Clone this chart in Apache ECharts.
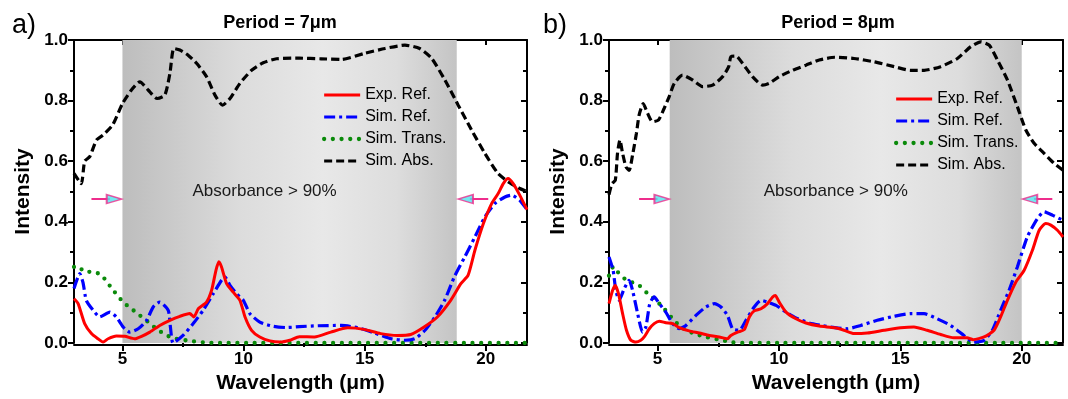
<!DOCTYPE html>
<html><head><meta charset="utf-8">
<script src="https://cdn.jsdelivr.net/npm/echarts@6/dist/echarts.min.js"></script>
<style>html,body{margin:0;padding:0;background:#fff}#c{width:1068px;height:399px}</style>
</head><body><div id="c"></div>
<script>
// ---- data ----
const seriesNames = ['Exp. Ref.', 'Sim. Ref.', 'Sim. Trans.', 'Sim. Abs.'];
const panelTitles = ['Period = 7μm', 'Period = 8μm'];
const panelLetters = ['a)', 'b)'];
const xTicks = [5, 10, 15, 20];
const xMinorTicks = [7.5, 12.5, 17.5];
const xTopTicks = [5, 7.5, 10, 12.5, 15, 17.5, 20];
const bandA = [5, 18.8];
const bandB = [5.5, 20];
const bandText = 'Absorbance > 90%';
// arrows: [tail x, tip x, y]
const arrowsA = [[3.72, 4.96, 0.475], [20.1, 18.86, 0.475]];
const arrowsB = [[4.24, 5.48, 0.475], [21.26, 20.03, 0.475]];

const aExp = [[3.0,0.146],[3.17,0.13],[3.44,0.064],[3.72,0.031],[3.99,0.014],[4.2,0.003],[4.41,0.014],[4.75,0.023],[5.1,0.022],[5.5,0.014],[5.79,0.022],[6.13,0.036],[6.54,0.058],[6.96,0.075],[7.37,0.088],[7.78,0.097],[7.95,0.086],[8.13,0.113],[8.47,0.135],[8.68,0.174],[8.86,0.24],[8.98,0.268],[9.09,0.251],[9.3,0.196],[9.57,0.168],[9.85,0.141],[10.06,0.086],[10.33,0.042],[10.67,0.02],[11.09,0.007],[11.5,0.003],[11.91,0.009],[12.3,0.021],[12.93,0.02],[13.6,0.036],[14.3,0.05],[14.97,0.045],[15.66,0.031],[16.35,0.025],[16.9,0.028],[17.45,0.053],[18.0,0.086],[18.55,0.141],[18.97,0.196],[19.27,0.224],[19.55,0.306],[19.9,0.394],[20.24,0.46],[20.51,0.493],[20.72,0.526],[20.92,0.543],[21.13,0.526],[21.4,0.488],[21.7,0.44]];
const aRef = [[3.0,0.18],[3.24,0.229],[3.37,0.2],[3.51,0.14],[3.79,0.108],[4.06,0.086],[4.48,0.102],[4.75,0.086],[5.03,0.053],[5.3,0.036],[5.65,0.047],[6.0,0.075],[6.27,0.119],[6.54,0.135],[6.89,0.108],[6.98,0.053],[7.09,0.0],[7.5,0.025],[7.92,0.064],[8.33,0.108],[8.75,0.163],[9.09,0.207],[9.23,0.218],[9.44,0.19],[9.71,0.163],[9.99,0.141],[10.26,0.097],[10.67,0.069],[11.23,0.055],[11.78,0.051],[12.3,0.054],[13.07,0.057],[14.04,0.058],[14.72,0.05],[15.4,0.033],[16.1,0.014],[16.66,0.009],[17.07,0.014],[17.49,0.042],[17.9,0.086],[18.3,0.141],[18.7,0.218],[19.13,0.284],[19.55,0.35],[19.96,0.416],[20.37,0.46],[20.79,0.482],[21.06,0.488],[21.4,0.471],[21.7,0.44]];
const aTrans = [[3.0,0.251],[3.17,0.253],[3.44,0.235],[3.79,0.235],[4.13,0.224],[4.41,0.196],[4.68,0.168],[5.03,0.135],[5.37,0.113],[5.72,0.091],[6.06,0.069],[6.4,0.047],[6.82,0.025],[7.23,0.014],[7.78,0.007],[8.33,0.002],[9.0,0.0],[21.7,0.0]];
const aAbs = [[3.0,0.56],[3.3,0.526],[3.44,0.6],[3.65,0.615],[3.93,0.67],[4.2,0.686],[4.6,0.72],[5.0,0.79],[5.37,0.835],[5.72,0.862],[6.06,0.835],[6.43,0.807],[6.75,0.818],[6.96,0.89],[7.12,0.972],[7.37,0.967],[7.71,0.95],[8.06,0.923],[8.47,0.879],[8.82,0.818],[9.13,0.785],[9.44,0.807],[9.85,0.857],[10.33,0.9],[10.81,0.925],[11.36,0.938],[12.3,0.94],[13.2,0.938],[14.04,0.936],[15.0,0.956],[15.84,0.972],[16.66,0.983],[17.27,0.972],[17.76,0.94],[18.31,0.868],[18.86,0.785],[19.41,0.703],[19.96,0.626],[20.5,0.56],[21.0,0.528],[21.4,0.51],[21.7,0.5]];

const bExp = [[3.0,0.13],[3.15,0.174],[3.26,0.19],[3.39,0.163],[3.56,0.097],[3.72,0.042],[3.9,0.009],[4.11,0.003],[4.31,0.009],[4.45,0.02],[4.66,0.047],[4.86,0.064],[5.07,0.072],[5.34,0.067],[5.62,0.064],[5.89,0.051],[6.3,0.04],[6.72,0.033],[7.13,0.025],[7.54,0.02],[7.88,0.014],[8.02,0.025],[8.3,0.036],[8.57,0.044],[8.78,0.086],[8.98,0.106],[9.26,0.113],[9.53,0.13],[9.74,0.152],[9.85,0.157],[10.01,0.135],[10.29,0.102],[10.7,0.08],[11.11,0.066],[11.66,0.056],[12.3,0.05],[12.68,0.042],[13.09,0.031],[13.64,0.033],[14.33,0.042],[15.01,0.05],[15.56,0.053],[16.1,0.042],[16.66,0.028],[17.2,0.017],[17.75,0.017],[18.0,0.011],[18.45,0.02],[18.86,0.042],[19.13,0.086],[19.41,0.141],[19.75,0.2],[20.1,0.24],[20.44,0.306],[20.72,0.372],[20.99,0.394],[21.2,0.389],[21.47,0.372],[21.7,0.35]];
const bRef = [[3.0,0.284],[3.17,0.24],[3.28,0.174],[3.42,0.141],[3.63,0.18],[3.83,0.207],[3.97,0.174],[4.18,0.097],[4.38,0.036],[4.52,0.053],[4.68,0.13],[4.86,0.152],[5.07,0.13],[5.34,0.102],[5.62,0.064],[5.89,0.047],[6.17,0.058],[6.58,0.091],[6.99,0.119],[7.34,0.13],[7.61,0.119],[7.88,0.091],[8.09,0.047],[8.37,0.042],[8.64,0.075],[8.98,0.119],[9.26,0.141],[9.53,0.135],[9.88,0.124],[10.29,0.102],[10.7,0.083],[11.25,0.066],[11.8,0.057],[12.3,0.051],[12.82,0.047],[13.37,0.058],[14.05,0.075],[14.74,0.088],[15.42,0.097],[15.98,0.097],[16.52,0.08],[17.07,0.058],[17.62,0.025],[18.0,0.003],[18.45,0.009],[18.79,0.042],[19.13,0.108],[19.48,0.174],[19.82,0.251],[20.23,0.35],[20.64,0.41],[20.92,0.433],[21.26,0.422],[21.7,0.405]];
const bTrans = [[3.0,0.222],[3.17,0.251],[3.35,0.235],[3.63,0.213],[3.9,0.202],[4.24,0.19],[4.59,0.163],[4.93,0.141],[5.27,0.113],[5.62,0.08],[5.96,0.053],[6.44,0.033],[6.99,0.02],[7.54,0.011],[8.09,0.002],[8.6,0.0],[21.7,0.0]];
const bAbs = [[3.0,0.49],[3.12,0.526],[3.26,0.537],[3.35,0.626],[3.45,0.67],[3.56,0.626],[3.7,0.581],[3.83,0.57],[3.97,0.62],[4.13,0.692],[4.24,0.752],[4.41,0.79],[4.59,0.758],[4.79,0.73],[5.04,0.736],[5.27,0.774],[5.48,0.813],[5.69,0.857],[6.03,0.884],[6.44,0.868],[6.85,0.846],[7.27,0.851],[7.68,0.879],[7.93,0.912],[8.02,0.945],[8.23,0.947],[8.5,0.923],[8.91,0.879],[9.33,0.851],[9.6,0.857],[10.01,0.879],[10.56,0.9],[11.11,0.917],[11.66,0.934],[12.3,0.943],[13.09,0.939],[13.92,0.928],[14.75,0.912],[15.42,0.9],[15.98,0.9],[16.66,0.912],[17.35,0.939],[17.9,0.978],[18.31,0.994],[18.66,0.983],[19.0,0.934],[19.41,0.868],[19.82,0.78],[20.17,0.703],[20.51,0.659],[20.92,0.626],[21.33,0.593],[21.7,0.57]];

// ---- chart ----
const FONT = '"Liberation Sans", Arial, Helvetica, sans-serif';
const X_MIN = 3, X_MAX = 21.7;
const panels = [
  {exp: aExp, ref: aRef, trans: aTrans, abs: aAbs, band: bandA, arrows: arrowsA, grid: {left: 74, top: 40, width: 453, height: 303}, labelOffset: [-25, 0], legend: {left: 317, top: 82}},
  {exp: bExp, ref: bRef, trans: bTrans, abs: bAbs, band: bandB, arrows: arrowsB, grid: {left: 609, top: 40, width: 454, height: 303}, labelOffset: [-10, 0], legend: {left: 889, top: 86}}
];
const styles = {
  'Exp. Ref.': {color: '#ff0000', width: 3, type: 'solid'},
  'Sim. Ref.': {color: '#0000ff', width: 3.2, type: [11, 4, 3, 4]},
  'Sim. Trans.': {color: '#0a8a0a', width: 4.3, type: [0, 8.7], cap: 'round'},
  'Sim. Abs.': {color: '#000000', width: 3.2, type: [8, 4]}
};
const grid = [], xAxis = [], yAxis = [], series = [], legend = [], graphic = [];
const axisLineStyle = {color: '#000', width: 2};
panels.forEach((p, i) => {
  grid.push(p.grid);
  const xi = xAxis.length, yi = yAxis.length;
  xAxis.push({
    type: 'value', gridIndex: i, min: X_MIN, max: X_MAX, position: 'bottom', offset: 2,
    axisLine: {show: true, onZero: false, lineStyle: axisLineStyle},
    axisTick: {show: true, inside: false, length: 6, customValues: xTicks, lineStyle: {width: 2, color: '#000'}},
    axisLabel: {show: true, customValues: xTicks, fontSize: 17, fontWeight: 'bold', color: '#000', fontFamily: FONT, margin: 6},
    splitLine: {show: false},
    name: 'Wavelength (μm)', nameLocation: 'middle', nameGap: 27,
    nameTextStyle: {fontSize: 21, fontWeight: 'bold', color: '#000', fontFamily: FONT}
  });
  xAxis.push({
    type: 'value', gridIndex: i, min: X_MIN, max: X_MAX, position: 'bottom', offset: 2,
    axisLine: {show: false},
    axisTick: {show: true, inside: false, length: 4, customValues: xMinorTicks, lineStyle: {width: 2, color: '#000'}},
    axisLabel: {show: false}, splitLine: {show: false}
  });
  xAxis.push({
    type: 'value', gridIndex: i, min: X_MIN, max: X_MAX, position: 'top',
    axisLine: {show: true, onZero: false, lineStyle: axisLineStyle},
    axisTick: {show: true, inside: true, length: 5, customValues: xTopTicks, lineStyle: {width: 2, color: '#000'}},
    axisLabel: {show: false}, splitLine: {show: false}
  });
  yAxis.push({
    type: 'value', gridIndex: i, min: 0, max: 1, interval: 0.2, position: 'left',
    axisLine: {show: true, onZero: false, lineStyle: axisLineStyle},
    axisTick: {show: true, inside: false, length: 6, lineStyle: {width: 2, color: '#000'}},
    minorTick: {show: true, splitNumber: 2, length: 4, lineStyle: {width: 2, color: '#000'}},
    axisLabel: {formatter: v => v.toFixed(1), fontSize: 17, fontWeight: 'bold', color: '#000', fontFamily: FONT, margin: 6},
    splitLine: {show: false},
    name: 'Intensity', nameLocation: 'middle', nameGap: 40,
    nameTextStyle: {fontSize: 21, fontWeight: 'bold', color: '#000', fontFamily: FONT}
  });
  yAxis.push({
    type: 'value', gridIndex: i, min: 0, max: 1, interval: 0.2, position: 'right',
    axisLine: {show: true, onZero: false, lineStyle: axisLineStyle},
    axisTick: {show: true, inside: true, length: 6, lineStyle: {width: 2, color: '#000'}},
    minorTick: {show: true, splitNumber: 2, length: 4, lineStyle: {width: 2, color: '#000'}},
    axisLabel: {show: false}, splitLine: {show: false}
  });
  // shaded band
  series.push({
    type: 'line', xAxisIndex: xi, yAxisIndex: yi, data: [], z: 1, silent: true,
    markArea: {
      silent: true,
      itemStyle: {color: {type: 'linear', x: 0, y: 0, x2: 1, y2: 0, colorStops: [
        {offset: 0, color: '#bdbdbd'}, {offset: 0.35, color: '#dcdcdc'}, {offset: 0.6, color: '#e8e8e8'},
        {offset: 0.82, color: '#dddddd'}, {offset: 1, color: '#c4c4c4'}]}},
      label: {show: true, position: 'inside', offset: p.labelOffset, formatter: bandText,
        fontSize: 17, color: '#1a1a1a', fontFamily: FONT},
      data: [[{xAxis: p.band[0], yAxis: 0}, {xAxis: p.band[1], yAxis: 1}]]
    }
  });
  const order = [['Sim. Abs.', p.abs], ['Sim. Trans.', p.trans], ['Sim. Ref.', p.ref], ['Exp. Ref.', p.exp]];
  order.forEach(([name, data], k) => {
    const s = styles[name];
    series.push({
      type: 'line', name, xAxisIndex: xi, yAxisIndex: yi, data, z: 3 + k,
      symbol: 'none', showSymbol: false, smooth: 0.2, clip: true,
      lineStyle: {color: s.color, width: s.width, type: s.type, cap: s.cap || 'butt'},
      itemStyle: {color: s.color}
    });
  });
  // arrows
  const headLen = 0.6;
  series.push({
    type: 'line', xAxisIndex: xi, yAxisIndex: yi, data: [], z: 8, silent: true,
    markLine: {
      silent: true, symbol: ['none', 'none'], animation: false,
      lineStyle: {color: '#ee2d8c', width: 2, type: 'solid'}, label: {show: false},
      data: p.arrows.map(([t, h, y]) => {
        const dir = Math.sign(h - t);
        return [{coord: [t, y]}, {coord: [h - dir * headLen * 0.8, y]}];
      })
    }
  });
  series.push({
    type: 'scatter', xAxisIndex: xi, yAxisIndex: yi, z: 9, silent: true,
    symbol: 'triangle', symbolSize: [9, 15],
    itemStyle: {color: '#4fe3ec', borderColor: '#ee2d8c', borderWidth: 1.6},
    data: p.arrows.map(([t, h, y]) => {
      const dir = Math.sign(h - t);
      return {value: [h - dir * headLen / 2, y], symbolRotate: dir > 0 ? -90 : 90};
    })
  });
  legend.push({
    data: seriesNames, orient: 'vertical', left: p.legend.left, top: p.legend.top,
    itemWidth: 36, itemHeight: 14, itemGap: 6, selectedMode: false,
    itemStyle: {color: 'rgba(0,0,0,0)', borderWidth: 0, opacity: 0},
    lineStyle: {opacity: 1, width: 'inherit'},
    textStyle: {fontSize: 16, color: '#000', fontFamily: FONT}
  });
});
graphic.push(
  {type: 'text', x: 12, y: 26, style: {text: panelLetters[0], font: '27px ' + FONT, fill: '#000', textVerticalAlign: 'middle'}},
  {type: 'text', x: 543, y: 26, style: {text: panelLetters[1], font: '27px ' + FONT, fill: '#000', textVerticalAlign: 'middle'}},
  {type: 'text', x: 280, y: 23, style: {text: panelTitles[0], font: 'bold 18px ' + FONT, fill: '#000', textAlign: 'center', textVerticalAlign: 'middle'}},
  {type: 'text', x: 838, y: 23, style: {text: panelTitles[1], font: 'bold 18px ' + FONT, fill: '#000', textAlign: 'center', textVerticalAlign: 'middle'}}
);
const chart = echarts.init(document.getElementById('c'), null, {renderer: 'canvas'});
chart.setOption({animation: false, backgroundColor: '#fff', grid, xAxis, yAxis, series, legend, graphic});
</script></body></html>
